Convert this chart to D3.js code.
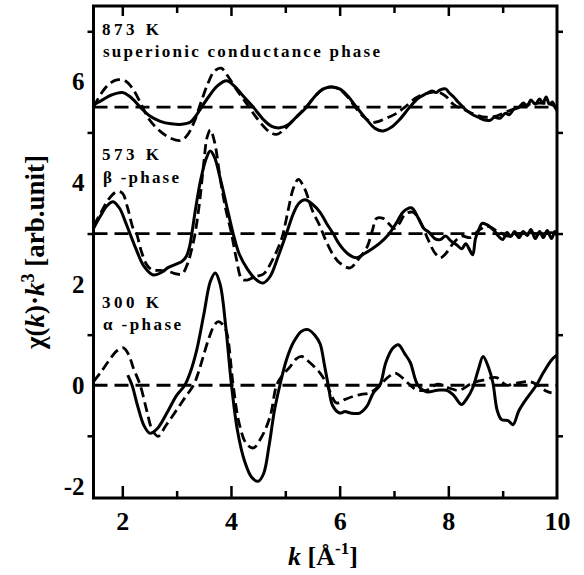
<!DOCTYPE html>
<html>
<head>
<meta charset="utf-8">
<script src="https://cdn.jsdelivr.net/npm/d3@7"></script>
<style>
  body { margin: 0; background: #fff; }
  svg text { font-family: "Liberation Serif", "Times New Roman", serif; fill: #000; }
</style>
</head>
<body>
<div id="chart-area"></div>
<script>
// chi(k)*k^3 spectra, three temperatures, measured (solid) and calculated (dashed)
var kTicks = [2, 4, 6, 8, 10];
var kMinor = [3, 5, 7, 9];
var yTicks = [-2, 0, 2, 4, 6];
var yMinor = [-1, 1, 3, 5, 7];
var offsets = [0, 3.0, 5.5];
var labelsTemp = ["873 K", "573 K", "300 K"];
var labelsPhase = ["superionic conductance phase", "\u03b2 -phase", "\u03b1 -phase"];

var solid873 = [[1.47,5.55],[1.6,5.62],[1.8,5.74],[2.0,5.79],[2.15,5.7],[2.33,5.5],[2.5,5.33],[2.7,5.22],[2.9,5.17],[3.1,5.16],[3.25,5.2],[3.35,5.32],[3.46,5.5],[3.6,5.72],[3.75,5.92],[3.92,6.02],[4.05,5.93],[4.2,5.75],[4.41,5.5],[4.6,5.25],[4.75,5.12],[4.9,5.09],[5.05,5.15],[5.2,5.3],[5.39,5.5],[5.55,5.72],[5.7,5.86],[5.85,5.9],[6.0,5.86],[6.15,5.72],[6.31,5.5],[6.5,5.25],[6.65,5.08],[6.8,5.03],[6.95,5.1],[7.1,5.25],[7.29,5.5],[7.45,5.68],[7.6,5.77],[7.7,5.82],[7.78,5.79],[7.85,5.84],[7.95,5.86],[8.02,5.78],[8.1,5.7],[8.18,5.6],[8.27,5.5],[8.35,5.42],[8.45,5.35],[8.55,5.3],[8.65,5.25],[8.77,5.24],[8.85,5.3],[8.95,5.28],[9.05,5.38],[9.12,5.35],[9.2,5.45],[9.3,5.5],[9.38,5.58],[9.45,5.52],[9.52,5.64],[9.6,5.56],[9.68,5.66],[9.74,5.58],[9.8,5.7],[9.86,5.56],[9.92,5.6],[9.96,5.5],[10,5.43]];
var dashed873 = [[1.47,5.5],[1.6,5.75],[1.75,5.95],[1.9,6.04],[2.05,6.02],[2.2,5.85],[2.35,5.55],[2.5,5.25],[2.7,5.02],[2.9,4.88],[3.08,4.84],[3.2,4.95],[3.32,5.2],[3.45,5.6],[3.58,5.98],[3.7,6.22],[3.82,6.27],[3.95,6.1],[4.1,5.85],[4.3,5.55],[4.5,5.25],[4.7,5.02],[4.84,4.96],[5.0,5.08],[5.2,5.3],[5.38,5.5],[5.55,5.72],[5.7,5.86],[5.85,5.9],[6.0,5.85],[6.15,5.7],[6.3,5.48],[6.45,5.3],[6.6,5.2],[6.72,5.22],[6.9,5.3],[7.05,5.38],[7.2,5.5],[7.4,5.68],[7.6,5.77],[7.8,5.8],[7.95,5.72],[8.1,5.55],[8.3,5.45],[8.5,5.35],[8.7,5.3],[8.9,5.33],[9.1,5.42],[9.3,5.5],[9.5,5.56],[9.7,5.58],[9.9,5.55],[10,5.5]];

var solid573 = [[1.47,3.1],[1.6,3.35],[1.72,3.55],[1.83,3.63],[1.95,3.5],[2.05,3.25],[2.14,3.0],[2.25,2.7],[2.4,2.35],[2.57,2.18],[2.7,2.22],[2.85,2.33],[3.0,2.4],[3.1,2.45],[3.18,2.55],[3.24,2.75],[3.28,3.0],[3.35,3.5],[3.45,4.1],[3.55,4.5],[3.62,4.63],[3.7,4.5],[3.8,4.1],[3.92,3.55],[4.04,3.0],[4.15,2.6],[4.3,2.3],[4.45,2.1],[4.59,2.02],[4.72,2.15],[4.87,2.55],[5.02,3.0],[5.15,3.4],[5.25,3.6],[5.36,3.67],[5.5,3.58],[5.64,3.42],[5.76,3.2],[5.88,3.0],[6.0,2.78],[6.15,2.6],[6.31,2.52],[6.45,2.6],[6.6,2.7],[6.74,2.81],[6.9,2.98],[7.05,3.22],[7.17,3.43],[7.32,3.51],[7.45,3.3],[7.55,3.1],[7.65,3.02],[7.75,2.9],[7.85,2.88],[7.95,2.95],[8.05,2.85],[8.15,2.78],[8.25,2.7],[8.32,2.8],[8.4,2.66],[8.45,2.58],[8.5,2.9],[8.57,3.1],[8.62,3.2],[8.7,3.18],[8.78,3.12],[8.85,3.05],[8.92,2.95],[9.0,2.88],[9.08,3.02],[9.15,2.94],[9.22,3.04],[9.3,2.92],[9.38,3.04],[9.45,2.96],[9.52,3.08],[9.6,2.9],[9.68,3.04],[9.75,2.92],[9.82,3.06],[9.9,2.9],[9.96,3.04],[10,2.96]];
var dashed573 = [[1.47,3.15],[1.6,3.4],[1.75,3.68],[1.9,3.83],[2.0,3.8],[2.1,3.5],[2.2,3.1],[2.26,3.0],[2.35,2.65],[2.45,2.38],[2.55,2.28],[2.7,2.27],[2.85,2.25],[3.0,2.2],[3.1,2.2],[3.2,2.4],[3.28,2.7],[3.34,3.0],[3.42,3.6],[3.5,4.4],[3.56,4.9],[3.62,5.05],[3.7,4.8],[3.8,4.1],[3.9,3.5],[4.0,3.05],[4.1,2.5],[4.2,2.1],[4.3,2.08],[4.45,2.15],[4.6,2.2],[4.75,2.45],[4.9,2.8],[4.96,3.0],[5.05,3.45],[5.15,3.9],[5.24,4.07],[5.35,3.9],[5.5,3.45],[5.64,3.14],[5.75,2.85],[5.88,2.58],[6.0,2.42],[6.19,2.32],[6.35,2.5],[6.5,2.72],[6.6,3.05],[6.68,3.3],[6.8,3.3],[6.9,3.2],[7.0,3.1],[7.1,3.2],[7.2,3.38],[7.35,3.42],[7.5,3.2],[7.62,2.9],[7.75,2.62],[7.85,2.52],[7.95,2.6],[8.1,2.82],[8.25,2.95],[8.4,2.92],[8.55,3.05],[8.7,3.15],[8.9,3.05],[9.1,2.95],[9.3,3.0],[9.5,3.02],[9.7,2.98],[9.9,3.02],[10,3.0]];

var solid300 = [[2.1,0.2],[2.18,0.0],[2.28,-0.4],[2.4,-0.8],[2.51,-0.95],[2.65,-0.85],[2.82,-0.55],[3.0,-0.2],[3.15,0.0],[3.25,0.25],[3.37,0.7],[3.5,1.4],[3.62,2.05],[3.71,2.22],[3.8,2.0],[3.9,1.2],[4.01,0.0],[4.12,-0.9],[4.25,-1.5],[4.38,-1.82],[4.5,-1.9],[4.6,-1.75],[4.7,-1.2],[4.8,-0.5],[4.9,0.0],[5.02,0.5],[5.15,0.85],[5.3,1.07],[5.42,1.1],[5.55,0.98],[5.64,0.82],[5.72,0.4],[5.79,0.0],[5.87,-0.4],[6.0,-0.55],[6.1,-0.52],[6.2,-0.55],[6.37,-0.55],[6.5,-0.42],[6.62,-0.15],[6.74,0.0],[6.85,0.45],[6.97,0.72],[7.08,0.8],[7.2,0.62],[7.3,0.45],[7.44,0.0],[7.6,-0.13],[7.8,-0.1],[7.97,-0.1],[8.1,-0.2],[8.24,-0.38],[8.35,-0.25],[8.45,-0.05],[8.55,0.3],[8.64,0.57],[8.74,0.35],[8.82,0.05],[8.9,-0.5],[8.98,-0.68],[9.1,-0.7],[9.19,-0.78],[9.3,-0.5],[9.45,-0.25],[9.62,0.0],[9.75,0.25],[9.9,0.5],[10,0.6]];
var dashed300 = [[1.47,0.07],[1.6,0.25],[1.75,0.48],[1.9,0.68],[2.02,0.74],[2.12,0.6],[2.2,0.35],[2.33,0.0],[2.45,-0.5],[2.55,-0.88],[2.66,-1.01],[2.8,-0.8],[3.0,-0.49],[3.15,-0.25],[3.31,0.0],[3.4,0.25],[3.49,0.57],[3.6,0.95],[3.7,1.2],[3.77,1.26],[3.85,1.2],[3.92,1.05],[4.04,0.0],[4.15,-0.75],[4.28,-1.15],[4.41,-1.24],[4.55,-1.05],[4.72,-0.62],[4.84,0.0],[4.95,0.2],[5.09,0.37],[5.2,0.52],[5.3,0.57],[5.45,0.45],[5.64,0.24],[5.75,0.05],[5.82,-0.12],[5.94,-0.35],[6.1,-0.28],[6.25,-0.22],[6.4,-0.18],[6.56,-0.15],[6.74,0.0],[6.88,0.15],[7.02,0.24],[7.15,0.15],[7.26,0.04],[7.4,-0.08],[7.6,-0.1],[7.8,0.02],[8.0,-0.05],[8.2,-0.1],[8.4,0.02],[8.55,0.08],[8.64,0.1],[8.8,0.15],[8.89,0.15],[9.0,0.05],[9.07,0.0],[9.3,0.05],[9.5,0.07],[9.65,0.0],[9.81,-0.12],[9.9,-0.15]];

var W = 584, H = 575;
var mLeft = 93.5, mRight = 557, mTop = 6, mBottom = 498;

var svg = d3.select("#chart-area").append("svg")
  .attr("width", W)
  .attr("height", H);

var x = d3.scaleLinear().domain([1.47, 10]).range([mLeft, mRight]);
var y = d3.scaleLinear().domain([-2.23, 7.5]).range([mBottom, mTop]);

var line = d3.line()
  .x(function(d){ return x(d[0]); })
  .y(function(d){ return y(d[1]); })
  .curve(d3.curveCatmullRom.alpha(0.5));

var plot = svg.append("g");
// reference lines
plot.selectAll(".base").data(offsets).enter().append("line")
  .attr("class", "base")
  .attr("x1", mLeft).attr("x2", mRight)
  .attr("y1", function(d){ return y(d); })
  .attr("y2", function(d){ return y(d); })
  .attr("stroke", "#000")
  .attr("stroke-width", 2.8)
  .attr("stroke-dasharray", "14,7");

var solids = [solid873, solid573, solid300];
var dashes = [dashed873, dashed573, dashed300];

plot.selectAll(".dash").data(dashes).enter().append("path")
  .attr("class", "dash")
  .attr("d", line)
  .attr("fill", "none")
  .attr("stroke", "#000")
  .attr("stroke-width", 2.8)
  .attr("stroke-dasharray", "10,5");

plot.selectAll(".solid").data(solids).enter().append("path")
  .attr("class", "solid")
  .attr("d", line)
  .attr("fill", "none")
  .attr("stroke", "#000")
  .attr("stroke-width", 3)
  .attr("stroke-linejoin", "round");

// axes
function clean(g){ g.select(".domain").remove(); g.selectAll(".tick line").attr("stroke-width", 2.5); }

svg.append("g").attr("transform", "translate(0," + mTop + ")")
  .call(d3.axisBottom(x).tickValues([2,4,6,8]).tickSize(10).tickFormat("")).call(clean);
svg.append("g").attr("transform", "translate(0," + mTop + ")")
  .call(d3.axisBottom(x).tickValues(kMinor).tickSize(7).tickFormat("")).call(clean);
svg.append("g").attr("transform", "translate(0," + mBottom + ")")
  .call(d3.axisTop(x).tickValues([2,4,6,8]).tickSize(12).tickFormat("")).call(clean);
svg.append("g").attr("transform", "translate(0," + mBottom + ")")
  .call(d3.axisTop(x).tickValues(kMinor).tickSize(7).tickFormat("")).call(clean);
var xLab = svg.append("g").attr("transform", "translate(0," + mBottom + ")")
  .call(d3.axisBottom(x).tickValues(kTicks).tickSize(0).tickPadding(14)).call(clean);
xLab.selectAll("text").attr("font-size", 26).attr("font-weight", "bold")
  .attr("font-family", "Liberation Serif").attr("dy", "0.71em");

svg.append("g").attr("transform", "translate(" + mLeft + ",0)")
  .call(d3.axisLeft(y).tickValues(yMinor).tickSize(6).tickFormat("")).call(clean);
svg.append("g").attr("transform", "translate(" + mRight + ",0)")
  .call(d3.axisRight(y).tickValues(yMinor).tickSize(6).tickFormat("")).call(clean);
var yLab = svg.append("g").attr("transform", "translate(" + mLeft + ",0)")
  .call(d3.axisLeft(y).tickValues(yTicks).tickSize(0).tickPadding(9)
    .tickFormat(function(d){ return d < 0 ? "-" + Math.abs(d) : d; })).call(clean);
yLab.selectAll("text").attr("font-size", 25).attr("font-weight", "bold")
  .attr("font-family", "Liberation Serif");

// frame
svg.append("rect")
  .attr("x", mLeft).attr("y", mTop)
  .attr("width", mRight - mLeft).attr("height", mBottom - mTop)
  .attr("fill", "none").attr("stroke", "#000").attr("stroke-width", 3);

// panel labels
var tempY = [35, 160, 308], phaseY = [57, 183, 330];
var phaseLen = [277, 76, 78];
labelsTemp.forEach(function(t, i){
  svg.append("text").attr("x", 102).attr("y", tempY[i])
    .attr("font-size", 17).attr("font-weight", "bold")
    .attr("textLength", 57).attr("lengthAdjust", "spacing").text(t);
  svg.append("text").attr("x", 103).attr("y", phaseY[i])
    .attr("font-size", 17).attr("font-weight", "bold")
    .attr("textLength", phaseLen[i]).attr("lengthAdjust", "spacing").text(labelsPhase[i]);
});

// axis titles
var yt = svg.append("text")
  .attr("transform", "translate(44,252) rotate(-90)")
  .attr("text-anchor", "middle")
  .attr("font-size", 27).attr("font-weight", "bold");
yt.append("tspan").text("\u03c7(");
yt.append("tspan").attr("font-style", "italic").text("k");
yt.append("tspan").text(")\u00b7");
yt.append("tspan").attr("font-style", "italic").text("k");
yt.append("tspan").attr("dy", -10).attr("font-size", 18).text("3");
yt.append("tspan").attr("dy", 10).text(" [arb.unit]");

var xt = svg.append("text")
  .attr("x", 323).attr("y", 565)
  .attr("text-anchor", "middle")
  .attr("font-size", 26).attr("font-weight", "bold");
xt.append("tspan").attr("font-style", "italic").text("k");
xt.append("tspan").text(" [\u00c5");
xt.append("tspan").attr("dy", -11).attr("font-size", 17).text("-1");
xt.append("tspan").attr("dy", 11).text("]");
</script>
</body>
</html>
